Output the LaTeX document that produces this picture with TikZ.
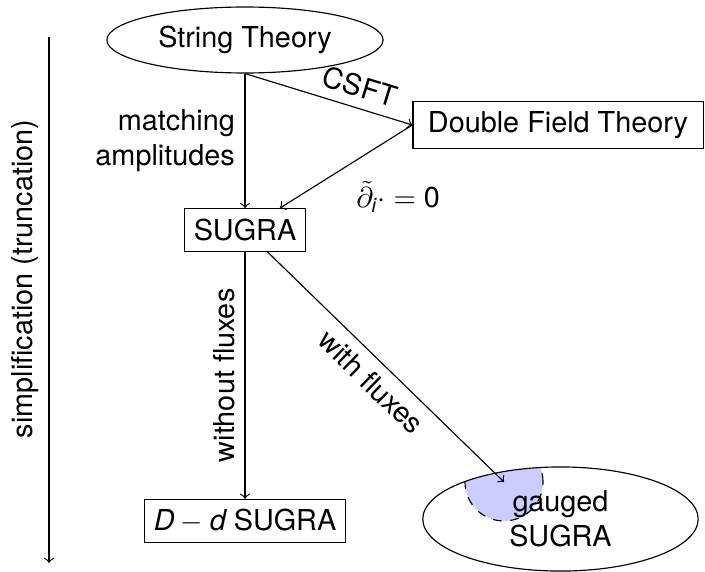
\documentclass[tikz,border=0pt]{standalone}
\usepackage{amsmath}
\usepackage{fontspec}
\setmainfont{TeX Gyre Heros}
\usetikzlibrary{shapes.geometric,positioning,backgrounds}
\definecolor{nbhdblue}{HTML}{CCCCFF}

\begin{document}
\begin{tikzpicture}[
  x=1cm,
  y=1cm,
  theory/.style={draw, ellipse, inner sep=0pt},
  model/.style={draw, rectangle, minimum height=0.52cm},
  flow/.style={->},
  nbhd/.style={fill=nbhdblue, draw=black, dashed}
]
\useasboundingbox (0,0) rectangle (8.601,-6.978);

\node[theory, minimum width=3.37cm, minimum height=0.805cm] (string) at (2.989,-0.488) {String Theory};
\node[model, minimum width=3.54cm, minimum height=0.56cm] (dft) at (6.808,-1.525) {Double Field Theory};
\node[model] (sugra) at (2.989,-2.806) {SUGRA};
\node[model] (dsugra) at (2.989,-6.356) {$\textit{D}-\textit{d}$ SUGRA};
\node[theory, minimum width=3.36cm, minimum height=1.27cm, align=center] (gauged) at (6.838,-6.332) {gauged\\SUGRA};
\coordinate (tip) at (6.149,-5.880);

\coordinate (trunc top) at (0.598,-0.451);
\coordinate (trunc end) at (0.598,-6.869);

\draw[flow] (string.south) -- node[left, align=right] (match) {matching\\amplitudes} (sugra);
\draw[flow] (string.south) -- node[pos=0.65, above, sloped] (csft) {CSFT} (dft.west);
\draw[flow] (dft.west) -- node[midway, below right, yshift=-0.05cm] (strong) {$\tilde{\partial}_{\textit{i}}\cdot=\text{0}$} (sugra);
\draw[flow] (sugra) -- node[midway, rotate=90, anchor=south] (nofl) {without fluxes} (dsugra);
\draw[flow] (sugra) -- node[midway, below, sloped] (withfl) {with fluxes} (tip);
\draw[flow] (trunc top) -- node[pos=0.46, rotate=90, anchor=south] (simp) {simplification (truncation)} (trunc end);

% neighbourhood of the flux point
\begin{scope}[on background layer]
  \clip (gauged.center) ellipse [x radius=1.68cm, y radius=0.635cm];
  \filldraw[nbhd] (tip) circle [radius=0.476cm];
\end{scope}
\end{tikzpicture}
\end{document}
